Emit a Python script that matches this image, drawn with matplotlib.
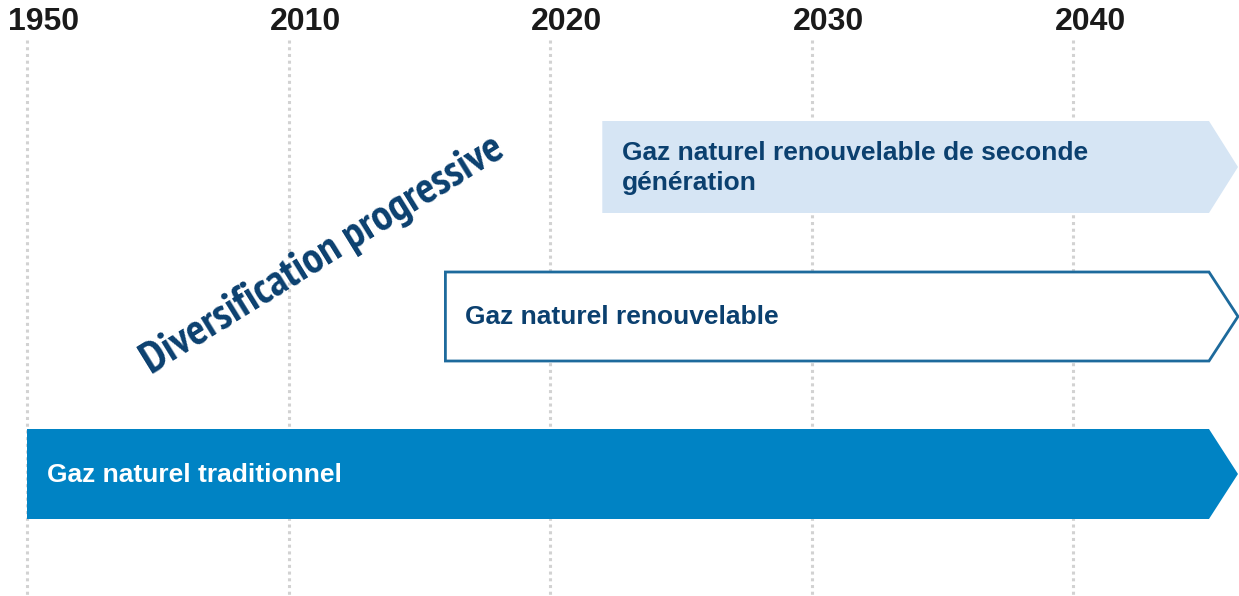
"""Timeline: diversification progressive du gaz naturel."""
import matplotlib.pyplot as plt
import matplotlib.transforms as mtransforms
from matplotlib.patches import Polygon
from matplotlib import font_manager
from matplotlib.font_manager import FontProperties

# ticks of the (broken) time axis
tick_years = [1950, 2010, 2020, 2030, 2040]
tick_labels = ["1950", "2010", "2020", "2030", "2040"]

# filières: start / end year
labels = ["Gaz naturel renouvelable de seconde\ngénération",
          "Gaz naturel renouvelable",
          "Gaz naturel traditionnel"]
start_years = [2022, 2016, 1950]
end_years = [2045.2, 2045.2, 2045.2]

DARK = "#0b406f"
fills = ["#d6e5f4", "white", "#0083c4"]
edges = ["none", "#1d6a9c", "none"]
text_colors = [DARK, DARK, "white"]
row_top = [121, 272, 429]
row_bot = [213, 361, 519]


def pos(year):
    # 1950 -> 0, 2010 -> 1, then one slot per decade
    if year <= 1950:
        return 0.0
    if year <= 2010:
        return (year - 1950) / 60
    return (year - 2000) / 10


def narrow_bold():
    # look for a narrow / condensed bold face
    fl = font_manager.fontManager.ttflist
    for f in fl:
        if "Narrow" in f.name and f.weight in ("bold", 700) and "Italic" not in f.fname:
            return FontProperties(fname=f.fname)
    for f in fl:
        if f.name == "DejaVu Sans" and "Condensed-Bold." in f.fname:
            return FontProperties(fname=f.fname)
    return FontProperties(family="Liberation Sans", weight="bold")


fig = plt.figure(figsize=(12.39, 5.96), dpi=100)
ax = fig.add_axes([0, 0, 1, (596 - 40) / 596])
ax.set_xlim(-27 / 261.5, (1239 - 27) / 261.5)
ax.set_ylim(596, 40)

tick_pos = [pos(y) for y in tick_years]
ax.vlines(tick_pos, 40, 596, colors="#d2d2d2", linestyles=(0, (1, 1.2)),
          linewidth=2.2, zorder=0)

tip = 29 / 261.5
for lab, s, e, fc, ec, tc, top, bot in zip(labels, start_years, end_years, fills,
                                           edges, text_colors, row_top, row_bot):
    x0, x1 = pos(s), pos(e)
    mid = (top + bot) / 2
    pts = [(x0, top), (x1, top), (x1 + tip, mid), (x1, bot), (x0, bot)]
    ax.add_patch(Polygon(pts, closed=True, facecolor=fc, edgecolor=ec,
                         linewidth=2 if ec != "none" else 0, zorder=2))
    ax.text(x0 + 20 / 261.5, mid + 1, lab, color=tc, fontsize=19,
            fontweight="bold", family=["Liberation Sans", "DejaVu Sans"],
            ha="left", va="center", linespacing=1.3, zorder=3)

# rotated title, sized so that its baseline spans ~418 px
fp = narrow_bold()
fp.set_size(24)
t = ax.text(pos(1950) + 124 / 261.5, 374, "Diversification progressive",
            color=DARK, fontproperties=fp, rotation=0,
            rotation_mode="anchor", ha="left", va="baseline", zorder=3)
fig.canvas.draw()
w = t.get_window_extent().width
fp.set_size(24 * 418 / w)
t.set_fontproperties(fp)
t.set_rotation(31.7)

ax.xaxis.tick_top()
ax.set_xticks(tick_pos)
ax.set_xticklabels(tick_labels, fontsize=23, fontweight="bold",
                   color="#1a1a1a", family="Liberation Sans")
ax.tick_params(axis="x", length=0, pad=1.8)
ax.set_yticks([])
for sp in ax.spines.values():
    sp.set_visible(False)

# labels sit a bit right of their gridline
shift = mtransforms.ScaledTranslation(17 / 100, 0, fig.dpi_scale_trans)
for lbl in ax.get_xticklabels():
    lbl.set_transform(lbl.get_transform() + shift)

fig.savefig("out.png", dpi=100)
